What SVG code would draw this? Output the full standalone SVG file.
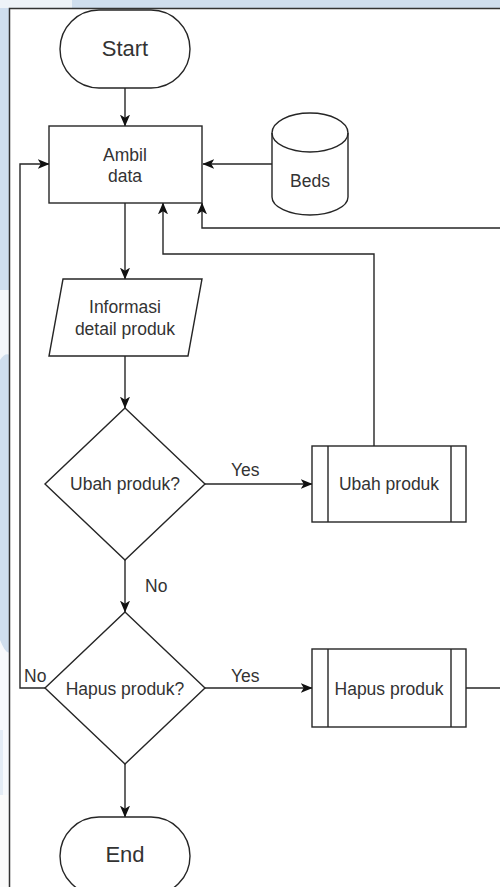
<svg xmlns="http://www.w3.org/2000/svg" width="500" height="887" viewBox="0 0 500 887">
  <style>
    .shape { fill: #ffffff; stroke: #262626; stroke-width: 1.4; }
    .edge { fill: none; stroke: #262626; stroke-width: 1.4; }
    .label { font-family: "Liberation Sans", Arial, sans-serif; font-size: 17.5px; fill: #333333; text-anchor: middle; }
    .big { font-size: 22px; }
    .edgelabel { font-family: "Liberation Sans", Arial, sans-serif; font-size: 17.5px; fill: #333333; }
  </style>
  <defs>
    <marker id="arrow" markerUnits="userSpaceOnUse" markerWidth="12" markerHeight="12" viewBox="0 0 10 10" refX="9.5" refY="5" orient="auto">
      <path d="M0,0.8 L10,5 L0,9.2 L2.6,5 Z" fill="#111111"/>
    </marker>
  </defs>

  <!-- page backdrop -->
  <rect x="0" y="0" width="500" height="887" fill="#cfdeee"/>
  <rect x="0" y="0" width="72" height="8" fill="#eef3f8"/>
  <path d="M0,290 L10,290 L10,355 Q5,352 0,360 Z" fill="#f4f7fb"/>
  <path d="M0,640 Q6,655 10,652 L10,730 L0,730 Z" fill="#f7f9fc"/>
  <rect x="0" y="730" width="3" height="65" fill="#e4ecf5"/>
  <rect x="3" y="730" width="7" height="65" fill="#f7f9fc"/>
  <rect x="0" y="795" width="10" height="92" fill="#fbfbfb"/>

  <!-- canvas -->
  <rect x="9.5" y="8.5" width="600" height="1000" fill="#ffffff" stroke="#333333" stroke-width="1.5"/>

  <!-- connectors -->
  <g id="connectors">
    <path class="edge" d="M125,88 L125,126" marker-end="url(#arrow)"/>
    <path class="edge" d="M272,164 L203,164" marker-end="url(#arrow)"/>
    <path class="edge" d="M125,203 L125,279" marker-end="url(#arrow)"/>
    <path class="edge" d="M125,356 L125,408" marker-end="url(#arrow)"/>
    <path class="edge" d="M205,484 L312,484" marker-end="url(#arrow)"/>
    <path class="edge" d="M374,446 L374,254 L163,254 L163,203" marker-end="url(#arrow)"/>
    <path class="edge" d="M125,560 L125,612" marker-end="url(#arrow)"/>
    <path class="edge" d="M205,688 L312,688" marker-end="url(#arrow)"/>
    <path class="edge" d="M45,688 L20,688 L20,164 L49,164" marker-end="url(#arrow)"/>
    <path class="edge" d="M466,688 L510,688"/>
    <path class="edge" d="M510,228 L202,228 L202,203" marker-end="url(#arrow)"/>
    <path class="edge" d="M125,764 L125,817" marker-end="url(#arrow)"/>
    <text class="edgelabel" x="231" y="476">Yes</text>
    <text class="edgelabel" x="145" y="592">No</text>
    <text class="edgelabel" x="24" y="682">No</text>
    <text class="edgelabel" x="231" y="682">Yes</text>
  </g>

  <g id="start">
    <rect class="shape" x="60" y="10" width="130" height="78" rx="39" ry="39"/>
    <text class="label big" x="125" y="56">Start</text>
  </g>

  <g id="ambil-data">
    <rect class="shape" x="49" y="126" width="153" height="77"/>
    <text class="label" x="125" y="161">Ambil</text>
    <text class="label" x="125" y="182">data</text>
  </g>

  <g id="beds">
    <path class="shape" d="M272,133 A38,20 0 0 1 348,133 L348,197 A38,18 0 0 1 272,197 Z"/>
    <path class="edge" d="M272,133 A38,19 0 0 0 348,133"/>
    <text class="label" x="310" y="187">Beds</text>
  </g>

  <g id="informasi">
    <path class="shape" d="M63,279 L202,279 L188,356 L49,356 Z"/>
    <text class="label" x="125" y="313">Informasi</text>
    <text class="label" x="125" y="335">detail produk</text>
  </g>

  <g id="ubah-decision">
    <path class="shape" d="M125,408 L205,484 L125,560 L45,484 Z"/>
    <text class="label" x="125" y="490">Ubah produk?</text>
  </g>

  <g id="ubah-produk">
    <rect class="shape" x="312" y="446" width="154" height="76"/>
    <path class="edge" d="M328,446 L328,522 M451,446 L451,522"/>
    <text class="label" x="389" y="490">Ubah produk</text>
  </g>

  <g id="hapus-decision">
    <path class="shape" d="M125,612 L205,688 L125,764 L45,688 Z"/>
    <text class="label" x="125" y="695">Hapus produk?</text>
  </g>

  <g id="hapus-produk">
    <rect class="shape" x="312" y="649" width="154" height="78"/>
    <path class="edge" d="M328,649 L328,727 M451,649 L451,727"/>
    <text class="label" x="389" y="695">Hapus produk</text>
  </g>

  <g id="end">
    <rect class="shape" x="60" y="817" width="130" height="78" rx="39" ry="39"/>
    <text class="label big" x="125" y="862">End</text>
  </g>
</svg>
